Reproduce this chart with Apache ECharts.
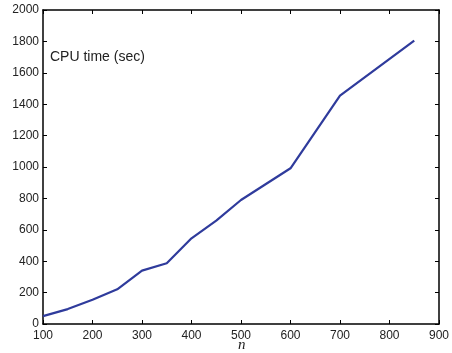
<!DOCTYPE html>
<html>
<head>
<meta charset="utf-8">
<script src="https://cdn.jsdelivr.net/npm/echarts@6/dist/echarts.min.js"></script>
<style>
  html, body { margin: 0; padding: 0; background: #fff; }
  #chart { width: 452px; height: 353px; }
</style>
</head>
<body>
<div id="chart"></div>
<script>
// problem size n and measured CPU time in seconds
const nValues = [100, 150, 200, 250, 300, 350, 400, 450, 500, 600, 700, 850];
const cpuTime = [50, 95, 155, 221, 340, 387, 546, 658, 790, 992, 1454, 1805];

const xTicks = [100, 200, 300, 400, 500, 600, 700, 800, 900];
const yTicks = [0, 200, 400, 600, 800, 1000, 1200, 1400, 1600, 1800, 2000];

const font = 'Liberation Sans, Arial, Helvetica, sans-serif';
const ink = '#222';

const chart = echarts.init(document.getElementById('chart'), null, { renderer: 'canvas' });

// shared style for the four sides of the plot box, ticks pointing inward
const boxAxis = () => ({
  axisLine: { show: true, onZero: false, lineStyle: { color: '#000', width: 1.5 } },
  axisTick: { show: true, inside: true, length: 4, lineStyle: { color: '#000', width: 1 } },
  splitLine: { show: false }
});

const plain = v => String(v);

chart.setOption({
  animation: false,
  backgroundColor: '#fff',
  grid: { left: 43, right: 10, top: 10, bottom: 29, containLabel: false },
  xAxis: [
    Object.assign({
      type: 'value', position: 'bottom',
      min: xTicks[0], max: xTicks[xTicks.length - 1], interval: 100,
      axisLabel: { color: ink, fontSize: 12, fontFamily: font, margin: 6, formatter: plain }
    }, boxAxis()),
    Object.assign({
      type: 'value', position: 'top',
      min: xTicks[0], max: xTicks[xTicks.length - 1], interval: 100,
      axisLabel: { show: false }
    }, boxAxis())
  ],
  yAxis: [
    Object.assign({
      type: 'value', position: 'left',
      min: yTicks[0], max: yTicks[yTicks.length - 1], interval: 200,
      axisLabel: { color: ink, fontSize: 12, fontFamily: font, margin: 4, formatter: plain }
    }, boxAxis()),
    Object.assign({
      type: 'value', position: 'right',
      min: yTicks[0], max: yTicks[yTicks.length - 1], interval: 200,
      axisLabel: { show: false }
    }, boxAxis())
  ],
  series: [{
    type: 'line',
    xAxisIndex: 0,
    yAxisIndex: 0,
    data: nValues.map((n, i) => [n, cpuTime[i]]),
    showSymbol: false,
    lineStyle: { color: '#2f3b9c', width: 2.2 },
    z: 3
  }],
  graphic: [
    {
      type: 'text', left: 50, top: 50,
      style: { text: 'CPU time (sec)', fill: ink, font: '14px ' + font }
    },
    {
      type: 'text', left: 238, top: 338,
      style: { text: 'n', fill: ink, font: 'italic 15px "Liberation Serif", "DejaVu Serif", serif' }
    }
  ]
});
</script>
</body>
</html>
